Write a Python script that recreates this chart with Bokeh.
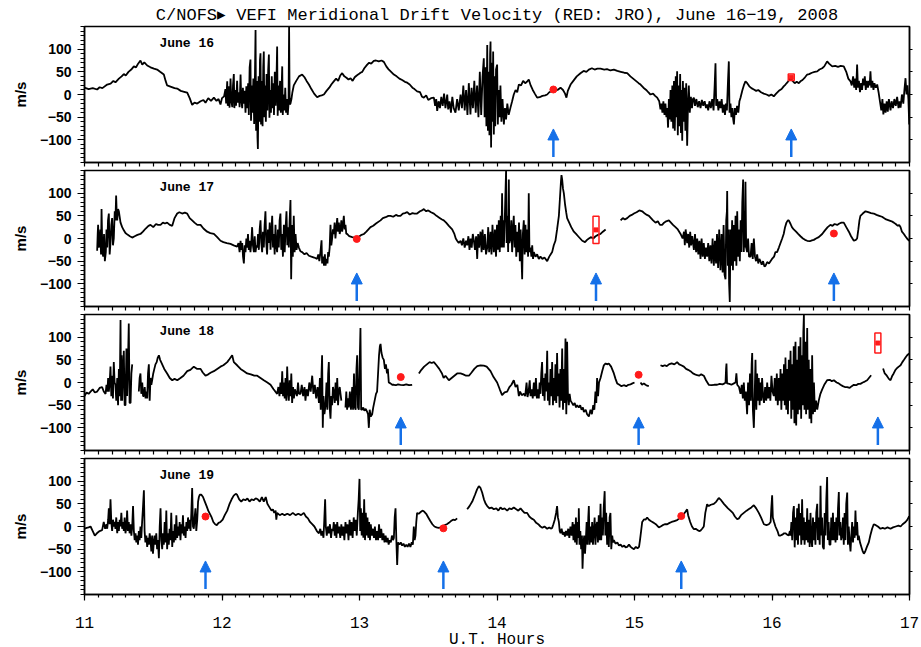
import numpy as np
from bokeh.plotting import figure
from bokeh.layouts import column
from bokeh.models import (Range1d, FixedTicker, LinearAxis, Label, Arrow,
                          NormalHead, ColumnDataSource)
from bokeh.embed import file_html
from bokeh.resources import INLINE

TITLE = "C/NOFS\u25b8 VEFI Meridional Drift Velocity (RED: JRO), June 16\u221219, 2008"
DAYS = ["June 16", "June 17", "June 18", "June 19"]
X_TICKS = [11, 12, 13, 14, 15, 16, 17]
Y_TICKS = [-100, -50, 0, 50, 100]
Y_LABELS = {"-100": "\u2212100", "-50": "\u221250", "0": "0", "50": "50", "100": "100"}
G = None  # data gap

# C/NOFS VEFI meridional drift (UT hour, m/s)
JUNE16 = [
 (11.000, 15), (11.030, 12), (11.060, 14), (11.092, 11), (11.110, 16), (11.130, 14), (11.165, 22), (11.190, 24),
 (11.210, 30), (11.225, 27), (11.250, 35), (11.270, 40), (11.286, 45), (11.300, 42), (11.320, 50), (11.340, 55),
 (11.359, 62), (11.375, 60), (11.390, 68), (11.407, 75), (11.420, 66), (11.435, 71), (11.456, 64), (11.480, 60),
 (11.505, 57), (11.528, 55), (11.550, 50), (11.577, 44), (11.590, 30), (11.601, 20), (11.630, 17), (11.655, 14),
 (11.674, 13), (11.700, 8), (11.725, 6), (11.747, 4), (11.765, -8), (11.783, -23), (11.800, -18), (11.820, -20),
 (11.844, -15), (11.865, -12), (11.880, -18), (11.900, -8), (11.920, -14), (11.941, -7), (11.960, -14), (11.975, -10),
 (11.989, -22), (12.000, -8), (12.015, -4), (12.025, 12), (12.030, -20), (12.038, 29), (12.042, -25), (12.050, 18),
 (12.055, -29), (12.062, 35), (12.068, -15), (12.075, -28), (12.080, 20), (12.086, 45), (12.090, -30), (12.097, 10),
 (12.102, -25), (12.110, 30), (12.115, -18), (12.122, 5), (12.128, -28), (12.135, 44), (12.140, -12), (12.147, -30),
 (12.152, 15), (12.158, -20), (12.165, 8), (12.171, -40), (12.177, 18), (12.183, -30), (12.190, 25), (12.195, -45),
 (12.201, 60), (12.207, 77), (12.211, -58), (12.217, 20), (12.222, -40), (12.228, 35), (12.234, -65), (12.240, 50),
 (12.244, 142), (12.248, -80), (12.254, 30), (12.258, -95), (12.261, -120), (12.266, 40), (12.271, -60), (12.276, 75),
 (12.280, 91), (12.284, -66), (12.290, 30), (12.295, -70), (12.300, 60), (12.304, 95), (12.308, -50), (12.314, 20),
 (12.319, -60), (12.324, 45), (12.330, -35), (12.336, 55), (12.341, 88), (12.345, -51), (12.351, 10), (12.356, -40),
 (12.362, 40), (12.367, -30), (12.373, 25), (12.378, -45), (12.384, 50), (12.390, -25), (12.395, 15), (12.401, 106),
 (12.405, -47), (12.411, 20), (12.416, -35), (12.422, 30), (12.428, -40), (12.433, 10), (12.438, 62), (12.442, -45),
 (12.448, 0), (12.454, -35), (12.460, 15), (12.466, -40), (12.472, -10), (12.478, -45), (12.484, -20), (12.488, 150),
 (12.492, -22), (12.498, -20), (12.505, -10), (12.512, 5), (12.522, 20), (12.540, 30), (12.560, 40), (12.583, 44),
 (12.600, 38), (12.615, 30), (12.632, 22), (12.650, 12), (12.670, 2), (12.692, -6), (12.710, -3), (12.725, -2),
 (12.741, 0), (12.760, 8), (12.780, 15), (12.795, 22), (12.813, 29), (12.830, 35), (12.845, 30), (12.860, 42),
 (12.874, 47), (12.890, 40), (12.905, 37), (12.920, 33), (12.935, 36), (12.950, 30), (12.965, 38), (12.980, 42),
 (12.995, 45), (13.007, 48), (13.020, 50), (13.035, 58), (13.056, 66), (13.070, 70), (13.085, 68), (13.104, 74),
 (13.120, 75), (13.140, 73), (13.160, 75), (13.177, 72), (13.195, 62), (13.210, 56), (13.230, 50), (13.250, 44),
 (13.270, 40), (13.290, 35), (13.310, 32), (13.330, 28), (13.347, 26), (13.365, 22), (13.385, 15), (13.400, 12),
 (13.419, 7), (13.440, 5), (13.455, -5), (13.468, -7), (13.485, -2), (13.500, -12), (13.520, -8), (13.541, -7),
 (13.550, -25), (13.558, -10), (13.565, -36), (13.575, -15), (13.585, -30), (13.595, -5), (13.605, -25), (13.615, 2),
 (13.625, -30), (13.638, 0), (13.645, -33), (13.655, -15), (13.665, -40), (13.675, -5), (13.685, -30), (13.698, -40),
 (13.710, -10), (13.722, -35), (13.735, 0), (13.745, -30), (13.755, 20), (13.765, -35), (13.775, 10), (13.785, -45),
 (13.795, 25), (13.807, -44), (13.815, 15), (13.825, -30), (13.835, 30), (13.845, -40), (13.855, 20), (13.865, -50),
 (13.875, 50), (13.885, -45), (13.895, 40), (13.904, 80), (13.910, -50), (13.917, 60), (13.923, -70), (13.929, 109),
 (13.934, -80), (13.940, 50), (13.945, -90), (13.950, 90), (13.953, 117), (13.957, -117), (13.962, 70), (13.967, -60),
 (13.972, 95), (13.977, -88), (13.982, 40), (13.987, -70), (13.993, 55), (14.001, 66), (14.006, -66), (14.012, 10),
 (14.018, -50), (14.025, 20), (14.032, -60), (14.040, -10), (14.050, -66), (14.058, -30), (14.066, -55), (14.075, -20),
 (14.085, -45), (14.098, -29), (14.110, -15), (14.122, 0), (14.135, 10), (14.147, 5), (14.159, 22), (14.175, 20),
 (14.190, 30), (14.205, 25), (14.218, 28), (14.231, 33), (14.245, 20), (14.260, 10), (14.275, 2), (14.292, -7),
 (14.310, -6), (14.330, -3), (14.350, -2), (14.365, 0), (14.380, 5), (14.401, 8), (14.420, 12), (14.440, 10),
 (14.462, 15), (14.480, 10), (14.495, 2), (14.505, -7), (14.515, 8), (14.535, 22), (14.555, 30), (14.580, 40),
 (14.607, 47), (14.630, 52), (14.650, 50), (14.668, 55), (14.690, 58), (14.710, 55), (14.730, 57), (14.753, 57),
 (14.780, 55), (14.800, 56), (14.825, 53), (14.850, 55), (14.875, 52), (14.900, 50), (14.925, 48), (14.947, 47),
 (14.970, 40), (14.990, 35), (15.010, 30), (15.030, 25), (15.044, 22), (15.065, 15), (15.085, 10), (15.100, 5),
 (15.116, 0), (15.135, 2), (15.150, -3), (15.165, -7), (15.180, -15), (15.189, -33), (15.196, -20), (15.203, -40),
 (15.210, -15), (15.218, -45), (15.225, -20), (15.232, -50), (15.238, -30), (15.244, -73), (15.250, -10), (15.256, -55),
 (15.262, 10), (15.268, -60), (15.275, 20), (15.281, -75), (15.287, 30), (15.293, -80), (15.300, 40), (15.305, -50),
 (15.310, 51), (15.315, -90), (15.320, 20), (15.326, -70), (15.332, 45), (15.338, -85), (15.343, 10), (15.347, -102),
 (15.352, 30), (15.358, -60), (15.364, 15), (15.370, -80), (15.376, 25), (15.383, -113), (15.389, -20), (15.395, 20),
 (15.402, -40), (15.410, -5), (15.418, -30), (15.425, -10), (15.432, -7), (15.440, -25), (15.450, -10), (15.460, -28),
 (15.470, -15), (15.480, -30), (15.490, -12), (15.500, -25), (15.510, -15), (15.520, -30), (15.528, -22), (15.536, -35),
 (15.545, -15), (15.555, -30), (15.565, -10), (15.575, -35), (15.583, 20), (15.589, 69), (15.594, -25), (15.602, -10),
 (15.610, -35), (15.618, -15), (15.626, -30), (15.634, -10), (15.642, -40), (15.650, -22), (15.658, -45), (15.665, -20),
 (15.672, -35), (15.680, 30), (15.686, 73), (15.691, -40), (15.698, -20), (15.705, -50), (15.712, -30), (15.718, -55),
 (15.723, -66), (15.730, -30), (15.738, -45), (15.746, -25), (15.755, -40), (15.763, -15), (15.771, -7), (15.785, 10),
 (15.795, 20), (15.807, 29), (15.820, 25), (15.835, 18), (15.850, 14), (15.868, 11), (15.885, 8), (15.900, 10),
 (15.920, 5), (15.940, 2), (15.960, 0), (15.980, -3), (15.995, 0), (16.013, -4), (16.030, 2), (16.050, 8),
 (16.070, 12), (16.085, 18), (16.098, 22), (16.115, 28), (16.135, 36), (16.150, 30), (16.165, 25), (16.180, 28),
 (16.195, 25), (16.207, 29), (16.222, 32), (16.240, 38), (16.256, 44), (16.270, 45), (16.290, 48), (16.310, 50),
 (16.329, 51), (16.345, 55), (16.365, 58), (16.380, 62), (16.401, 73), (16.415, 68), (16.438, 62), (16.460, 63),
 (16.480, 61), (16.500, 63), (16.522, 62), (16.540, 50), (16.555, 35), (16.571, 29), (16.580, 20), (16.590, 40),
 (16.598, 15), (16.606, 35), (16.612, 10), (16.619, 66), (16.625, 15), (16.632, 30), (16.640, 5), (16.648, 25),
 (16.655, 10), (16.662, 35), (16.668, 20), (16.675, 40), (16.682, 10), (16.690, 30), (16.698, 15), (16.705, 30),
 (16.710, 20), (16.716, 51), (16.722, 15), (16.730, 30), (16.738, 10), (16.745, 25), (16.755, 15), (16.765, 22),
 (16.775, 5), (16.785, -15), (16.795, -35), (16.803, -10), (16.810, -44), (16.818, -20), (16.826, -40), (16.834, -15),
 (16.842, -38), (16.850, -10), (16.862, -35), (16.870, -15), (16.880, -30), (16.890, -10), (16.900, -25), (16.910, -5),
 (16.920, -30), (16.928, -15), (16.935, -29), (16.945, 0), (16.955, -20), (16.963, 10), (16.971, 36), (16.978, 0),
 (16.985, 20), (16.992, -10), (16.998, -66),
]

JUNE17 = [
 (11.092, -27), (11.096, 10), (11.099, 30), (11.104, -20), (11.109, -10), (11.115, 20), (11.120, -35), (11.124, 65),
 (11.130, -30), (11.136, -40), (11.142, 10), (11.148, -50), (11.155, -30), (11.160, 20), (11.165, -20), (11.171, 40),
 (11.177, 55), (11.183, -35), (11.189, -10), (11.195, 30), (11.201, 45), (11.207, -15), (11.213, 0), (11.220, 60),
 (11.225, 40), (11.230, 95), (11.235, 50), (11.238, 40), (11.244, 65), (11.250, 60), (11.262, 35), (11.274, 25),
 (11.286, 18), (11.298, 12), (11.315, 8), (11.330, 5), (11.347, 2), (11.365, 5), (11.385, 8), (11.407, 10),
 (11.425, 15), (11.445, 22), (11.465, 28), (11.480, 30), (11.500, 25), (11.520, 32), (11.535, 30), (11.553, 30),
 (11.570, 35), (11.585, 33), (11.601, 35), (11.620, 30), (11.638, 28), (11.655, 45), (11.674, 55), (11.690, 58),
 (11.710, 55), (11.730, 57), (11.747, 55), (11.765, 45), (11.783, 40), (11.800, 35), (11.820, 30), (11.844, 30),
 (11.865, 22), (11.892, 15), (11.915, 12), (11.941, 10), (11.965, 3), (11.989, -5), (12.010, -8), (12.035, -10),
 (12.062, -12), (12.085, -15), (12.110, -18), (12.120, -10), (12.128, -30), (12.135, -5), (12.141, -25), (12.147, -10),
 (12.153, -40), (12.159, -55), (12.165, -15), (12.171, -30), (12.177, 0), (12.183, -20), (12.189, 10), (12.195, -25),
 (12.201, -5), (12.207, -30), (12.213, -10), (12.219, 25), (12.225, -15), (12.232, -30), (12.238, 5), (12.244, -30),
 (12.250, -15), (12.256, -20), (12.262, 10), (12.268, -25), (12.274, 20), (12.280, 40), (12.286, -10), (12.292, -30),
 (12.298, 15), (12.304, -20), (12.310, 30), (12.316, 60), (12.322, -10), (12.328, -35), (12.334, 20), (12.341, -10),
 (12.347, 35), (12.353, -25), (12.359, 15), (12.365, 50), (12.371, -20), (12.377, 10), (12.383, -35), (12.389, 30),
 (12.395, -15), (12.401, -30), (12.407, 20), (12.413, -20), (12.419, 40), (12.425, 55), (12.431, -25), (12.437, 10),
 (12.443, -40), (12.450, 30), (12.456, -30), (12.462, 20), (12.469, 60), (12.475, -15), (12.480, 25), (12.486, -20),
 (12.492, 40), (12.498, 85), (12.503, -90), (12.509, 30), (12.515, -40), (12.522, 50), (12.528, -30), (12.535, 10),
 (12.542, -25), (12.550, -10), (12.559, -20), (12.570, -28), (12.583, -30), (12.600, -35), (12.615, -32), (12.632, -38),
 (12.650, -40), (12.670, -42), (12.692, -45), (12.700, -35), (12.708, -50), (12.716, -30), (12.724, -4), (12.728, -55),
 (12.735, -40), (12.742, -60), (12.748, -35), (12.753, -60), (12.760, -45), (12.767, -55), (12.772, -30), (12.777, -40),
 (12.783, -20), (12.789, 30), (12.795, -15), (12.801, 0), (12.807, 20), (12.813, 10), (12.819, 35), (12.825, 0),
 (12.832, 25), (12.838, 45), (12.844, 15), (12.850, 35), (12.856, 10), (12.862, 20), (12.868, 40), (12.874, 15),
 (12.880, 30), (12.886, 50), (12.892, 20), (12.898, 30), (12.904, 10), (12.910, 10), (12.925, 5), (12.947, 3),
 (12.965, 2), (12.983, 0), (13.000, 5), (13.015, 8), (13.032, 10), (13.050, 15), (13.065, 20), (13.080, 25),
 (13.100, 28), (13.120, 33), (13.153, 40), (13.170, 45), (13.190, 47), (13.210, 50), (13.225, 50), (13.245, 48),
 (13.265, 52), (13.280, 50), (13.298, 50), (13.315, 55), (13.330, 56), (13.347, 58), (13.365, 53), (13.385, 56),
 (13.400, 55), (13.419, 55), (13.440, 60), (13.455, 62), (13.468, 65), (13.485, 60), (13.500, 62), (13.520, 58),
 (13.541, 55), (13.560, 50), (13.580, 46), (13.600, 42), (13.613, 40), (13.630, 35), (13.650, 28), (13.674, 20),
 (13.690, 10), (13.700, 0), (13.710, -5), (13.722, -10), (13.735, -5), (13.745, -15), (13.755, 0), (13.765, -20),
 (13.775, -5), (13.783, -15), (13.792, 5), (13.800, -25), (13.808, 0), (13.816, -20), (13.824, 10), (13.832, -5),
 (13.840, -25), (13.848, 5), (13.856, -45), (13.863, 10), (13.870, -20), (13.880, 15), (13.888, -30), (13.895, 20),
 (13.903, -25), (13.912, 10), (13.920, -35), (13.929, -20), (13.936, 25), (13.943, -30), (13.953, 15), (13.960, -35),
 (13.967, 30), (13.977, -30), (13.985, 20), (13.993, -40), (14.000, 30), (14.007, -25), (14.013, 40), (14.020, -30),
 (14.027, 50), (14.032, -20), (14.037, 100), (14.042, -20), (14.046, 40), (14.050, -20), (14.058, 60), (14.066, 150),
 (14.070, -10), (14.076, 50), (14.081, -30), (14.086, 130), (14.090, -10), (14.098, 0), (14.104, 40), (14.110, -30),
 (14.116, 20), (14.122, 50), (14.128, -20), (14.134, 30), (14.140, -40), (14.147, 15), (14.153, -30), (14.160, 35),
 (14.166, -50), (14.172, 20), (14.178, -40), (14.183, -90), (14.188, 10), (14.195, 40), (14.201, -35), (14.207, 30),
 (14.213, -30), (14.219, 20), (14.226, -40), (14.231, 100), (14.236, -30), (14.244, -20), (14.250, -40), (14.256, -15),
 (14.262, -45), (14.268, -30), (14.280, -40), (14.292, -35), (14.304, -45), (14.316, -40), (14.330, -45), (14.345, -42),
 (14.365, -50), (14.380, -40), (14.401, -30), (14.413, -15), (14.425, -5), (14.437, 20), (14.450, 50), (14.458, 90),
 (14.465, 125), (14.469, 140), (14.474, 130), (14.480, 110), (14.486, 100), (14.495, 75), (14.503, 58), (14.510, 45),
 (14.525, 35), (14.540, 25), (14.559, 15), (14.575, 10), (14.590, 5), (14.605, 0), (14.620, -5), (14.640, -8),
 (14.655, -3), (14.668, 0), (14.685, 3), (14.700, 0), (14.717, 5), (14.735, 8), (14.753, 10), (14.770, 15),
 (14.790, 20), (14.845, G), (14.899, 40), (14.915, 45), (14.930, 42), (14.947, 45), (14.965, 50), (14.980, 52),
 (14.996, 55), (15.015, 58), (15.035, 62), (15.056, 60), (15.075, 55), (15.090, 52), (15.105, 50), (15.120, 45),
 (15.135, 40), (15.153, 35), (15.170, 38), (15.185, 30), (15.201, 30), (15.215, 35), (15.230, 38), (15.250, 40),
 (15.265, 35), (15.280, 30), (15.298, 25), (15.315, 20), (15.335, 10), (15.350, 0), (15.360, 15), (15.366, -15),
 (15.372, 20), (15.383, -10), (15.390, 10), (15.398, -20), (15.405, 15), (15.412, -15), (15.420, 5), (15.432, -25),
 (15.440, 10), (15.448, -30), (15.456, 0), (15.464, -35), (15.472, -5), (15.480, -45), (15.488, 0), (15.496, -40),
 (15.504, -10), (15.512, -45), (15.520, -20), (15.528, -40), (15.536, -10), (15.544, -50), (15.552, -15), (15.560, -55),
 (15.568, 0), (15.577, -60), (15.585, -5), (15.593, -55), (15.600, 10), (15.608, -65), (15.616, 20), (15.625, -70),
 (15.633, 10), (15.641, -75), (15.648, 30), (15.655, -80), (15.662, -90), (15.667, 40), (15.672, 60), (15.674, 105),
 (15.679, -60), (15.684, 20), (15.688, -100), (15.693, -140), (15.698, 20), (15.703, -60), (15.710, 40), (15.716, -70),
 (15.722, 30), (15.728, -50), (15.735, 50), (15.741, -60), (15.747, 60), (15.753, -40), (15.760, 20), (15.766, -50),
 (15.772, 40), (15.778, -30), (15.784, 80), (15.790, 130), (15.795, -30), (15.800, 60), (15.804, -20), (15.807, 125),
 (15.812, -20), (15.819, -30), (15.826, 0), (15.833, -40), (15.844, -40), (15.852, -10), (15.860, -45), (15.868, 0),
 (15.876, -40), (15.884, -50), (15.892, -35), (15.900, -55), (15.908, -45), (15.916, -50), (15.925, -58), (15.935, -50),
 (15.945, -62), (15.953, -60), (15.965, -52), (15.978, -55), (15.989, -50), (16.000, -45), (16.015, -40), (16.025, -30),
 (16.037, -30), (16.050, -20), (16.062, -10), (16.074, 0), (16.085, 10), (16.095, 25), (16.105, 35), (16.115, 40),
 (16.122, 40), (16.135, 32), (16.145, 25), (16.158, 20), (16.175, 15), (16.190, 10), (16.207, 5), (16.225, 0),
 (16.240, -3), (16.256, -5), (16.275, -6), (16.290, -4), (16.304, -3), (16.320, 0), (16.340, 3), (16.365, 10),
 (16.385, 18), (16.405, 25), (16.425, 30), (16.440, 28), (16.455, 32), (16.474, 30), (16.490, 33), (16.505, 35),
 (16.522, 35), (16.540, 25), (16.559, 15), (16.575, 5), (16.595, -5), (16.610, -3), (16.619, 0), (16.628, 20),
 (16.636, 40), (16.643, 50), (16.660, 55), (16.680, 60), (16.700, 58), (16.720, 56), (16.740, 55), (16.760, 52),
 (16.780, 50), (16.800, 48), (16.814, 45), (16.830, 42), (16.850, 40), (16.870, 38), (16.886, 35), (16.900, 32),
 (16.915, 28), (16.925, 30), (16.935, 25), (16.945, 15), (16.959, 10), (16.970, 5), (16.982, 0), (16.998, -5),
]

JUNE18 = [
 (11.000, -30), (11.015, -22), (11.030, -25), (11.044, -20), (11.060, -15), (11.075, -22), (11.092, -20), (11.110, -12),
 (11.128, -10), (11.140, -20), (11.153, -25), (11.160, -5), (11.166, -20), (11.172, 10), (11.177, -20), (11.183, 0),
 (11.189, 35), (11.195, -30), (11.201, 15), (11.207, -35), (11.213, 45), (11.219, 0), (11.225, -5), (11.231, -40),
 (11.238, 10), (11.244, -50), (11.250, 30), (11.256, -30), (11.262, 138), (11.266, -40), (11.270, 60), (11.274, -40),
 (11.280, 20), (11.286, 70), (11.292, -50), (11.298, -50), (11.305, 75), (11.310, -30), (11.316, 40), (11.322, 130),
 (11.328, -45), (11.335, -45), (11.341, 20), (11.347, 40), (11.370, G), (11.395, -20), (11.401, 10), (11.407, 20),
 (11.413, -25), (11.420, 0), (11.426, -30), (11.432, -30), (11.438, -10), (11.444, -35), (11.450, -20), (11.456, -35),
 (11.462, 20), (11.468, 40), (11.474, -40), (11.480, 10), (11.486, -5), (11.492, 5), (11.500, 20), (11.508, 30),
 (11.516, 40), (11.525, 45), (11.533, 55), (11.541, 60), (11.550, 50), (11.565, 40), (11.580, 30), (11.601, 20),
 (11.620, 10), (11.638, 5), (11.655, 8), (11.675, 5), (11.698, 10), (11.720, 15), (11.747, 25), (11.770, 28),
 (11.795, 35), (11.820, 30), (11.844, 30), (11.860, 22), (11.880, 15), (11.900, 18), (11.920, 22), (11.941, 25),
 (11.965, 30), (11.989, 35), (12.010, 38), (12.038, 45), (12.055, 52), (12.074, 60), (12.086, 45), (12.110, 38),
 (12.135, 30), (12.160, 25), (12.183, 20), (12.210, 18), (12.235, 15), (12.256, 15), (12.280, 10), (12.304, 5),
 (12.330, 0), (12.353, -5), (12.375, -15), (12.401, -25), (12.410, -10), (12.418, -30), (12.425, 0), (12.432, -25),
 (12.438, 25), (12.444, -30), (12.450, 0), (12.456, -35), (12.462, 10), (12.468, -40), (12.474, 35), (12.480, -20),
 (12.486, -40), (12.492, 5), (12.498, -30), (12.504, 20), (12.510, -45), (12.517, -10), (12.523, -35), (12.530, -15),
 (12.535, -20), (12.545, -30), (12.553, 0), (12.560, -25), (12.571, -25), (12.580, -5), (12.590, -30), (12.600, -10),
 (12.607, -40), (12.615, -15), (12.625, -30), (12.635, 0), (12.645, -20), (12.656, 15), (12.665, -25), (12.675, -5),
 (12.685, -35), (12.695, -10), (12.705, -45), (12.712, 10), (12.718, -60), (12.724, 20), (12.728, 60), (12.733, -100),
 (12.738, -30), (12.745, -70), (12.753, -50), (12.760, 0), (12.766, -60), (12.772, 20), (12.777, 45), (12.783, -55),
 (12.789, -80), (12.795, -30), (12.801, -50), (12.807, -10), (12.813, -20), (12.820, -45), (12.826, 0), (12.832, -40),
 (12.838, 10), (12.844, -50), (12.850, -20), (12.856, -10), (12.862, -25), (12.868, -40), (12.883, G), (12.898, -55),
 (12.904, -20), (12.910, -60), (12.916, -35), (12.922, -55), (12.930, -20), (12.938, -60), (12.947, -10), (12.953, -60),
 (12.960, 20), (12.966, -55), (12.972, -60), (12.978, 30), (12.983, 60), (12.989, -55), (12.995, -60), (13.001, 40),
 (13.007, 120), (13.012, -60), (13.019, -60), (13.027, -55), (13.035, -62), (13.045, -58), (13.056, -65), (13.062, -70),
 (13.068, -100), (13.074, -60), (13.082, -75), (13.092, -70), (13.100, -55), (13.110, -40), (13.120, -25), (13.128, -20),
 (13.135, 20), (13.142, 60), (13.148, 80), (13.153, 85), (13.160, 65), (13.168, 55), (13.177, 50), (13.185, 30),
 (13.192, 40), (13.200, 20), (13.206, 30), (13.213, 0), (13.225, -2), (13.238, -5), (13.250, -5), (13.265, -6),
 (13.280, -4), (13.298, -5), (13.320, -6), (13.340, -4), (13.360, -6), (13.383, -5), (13.410, G), (13.432, 20),
 (13.450, 28), (13.470, 35), (13.490, 40), (13.510, 45), (13.525, 43), (13.541, 45), (13.560, 38), (13.580, 30),
 (13.600, 20), (13.612, 10), (13.625, 15), (13.650, 5), (13.670, 10), (13.690, 15), (13.710, 20), (13.735, 20),
 (13.755, 18), (13.775, 15), (13.796, 15), (13.815, 22), (13.835, 30), (13.856, 36), (13.880, 38), (13.904, 37),
 (13.925, 35), (13.953, 25), (13.975, 12), (14.001, 0), (14.020, -15), (14.037, -28), (14.055, -22), (14.074, -20),
 (14.090, -10), (14.105, -5), (14.122, 5), (14.135, -10), (14.148, -5), (14.159, -30), (14.168, -20), (14.180, -28),
 (14.195, -25), (14.205, -30), (14.215, 0), (14.222, -32), (14.230, -20), (14.238, 5), (14.244, -30), (14.252, -15),
 (14.260, -35), (14.268, 0), (14.275, -30), (14.283, 10), (14.290, -35), (14.297, -15), (14.304, -35), (14.310, 0),
 (14.316, -25), (14.322, 20), (14.328, 45), (14.334, -30), (14.340, 10), (14.346, -40), (14.352, 20), (14.358, -20),
 (14.365, 70), (14.370, -40), (14.376, 0), (14.382, -50), (14.389, 30), (14.395, -30), (14.401, 45), (14.407, -50),
 (14.413, 10), (14.419, -40), (14.425, 40), (14.431, -45), (14.437, 65), (14.443, -30), (14.449, 20), (14.455, -55),
 (14.461, 30), (14.467, -40), (14.474, 75), (14.480, -60), (14.486, 30), (14.492, -45), (14.498, 97), (14.504, -70),
 (14.510, 90), (14.516, -30), (14.522, -50), (14.528, -25), (14.535, -40), (14.545, -45), (14.555, -50), (14.565, -45),
 (14.575, -55), (14.583, -50), (14.595, -55), (14.605, -50), (14.615, -60), (14.625, -55), (14.632, -65), (14.645, -60),
 (14.655, -70), (14.668, -75), (14.680, -60), (14.690, -70), (14.700, -50), (14.708, -60), (14.716, -20), (14.722, -45),
 (14.728, 10), (14.735, -30), (14.742, 0), (14.753, 10), (14.765, 25), (14.777, 38), (14.790, 42), (14.800, 40),
 (14.813, 42), (14.830, 35), (14.850, 20), (14.862, 8), (14.874, -2), (14.890, -5), (14.905, -8), (14.922, -6),
 (14.940, -8), (14.955, -5), (14.971, -4), (14.985, -2), (15.000, 0), (15.022, G), (15.044, 0), (15.055, -5),
 (15.068, -2), (15.080, -5), (15.092, -7), (15.104, -8), (15.150, G), (15.189, 38), (15.205, 36), (15.220, 38),
 (15.235, 36), (15.250, 40), (15.270, 42), (15.290, 40), (15.310, 45), (15.325, 40), (15.340, 38), (15.359, 35),
 (15.375, 30), (15.390, 28), (15.407, 25), (15.425, 20), (15.440, 18), (15.456, 16), (15.470, 15), (15.485, 18),
 (15.504, 15), (15.520, 5), (15.540, -5), (15.560, -6), (15.580, -5), (15.601, -5), (15.620, -3), (15.640, -4),
 (15.655, -2), (15.662, 0), (15.666, 30), (15.669, 42), (15.673, -2), (15.690, -3), (15.705, -5), (15.723, -2),
 (15.735, 0), (15.741, 20), (15.747, -5), (15.760, -10), (15.771, -25), (15.780, -5), (15.788, -35), (15.795, 0),
 (15.802, -40), (15.810, -20), (15.819, -70), (15.826, 0), (15.833, -50), (15.840, 20), (15.846, -40), (15.852, 40),
 (15.856, 65), (15.861, -60), (15.868, -100), (15.874, -30), (15.880, 50), (15.886, -60), (15.892, 20), (15.898, -40),
 (15.904, 10), (15.910, -50), (15.916, 0), (15.922, -40), (15.928, 10), (15.935, -30), (15.942, -45), (15.950, -10),
 (15.958, -40), (15.965, 0), (15.972, -35), (15.980, -10), (15.988, -40), (15.996, 15), (16.004, -20), (16.013, -30),
 (16.020, 10), (16.028, -40), (16.035, 20), (16.042, -50), (16.050, 10), (16.056, -40), (16.062, 30), (16.068, -60),
 (16.075, 20), (16.081, -40), (16.087, 40), (16.093, -50), (16.098, 55), (16.104, -60), (16.110, 30), (16.116, -70),
 (16.122, 50), (16.128, -40), (16.135, 70), (16.140, -80), (16.146, 40), (16.152, -60), (16.158, 80), (16.163, -90),
 (16.168, 60), (16.171, 90), (16.176, -95), (16.182, 50), (16.188, -70), (16.194, 80), (16.200, -60), (16.207, 100),
 (16.212, -80), (16.218, 60), (16.224, -50), (16.228, 110), (16.232, 150), (16.236, -60), (16.242, 90), (16.248, -70),
 (16.256, 120), (16.261, -60), (16.267, 50), (16.273, -80), (16.280, 30), (16.286, -90), (16.292, 60), (16.298, -70),
 (16.305, 0), (16.312, -65), (16.320, -40), (16.329, -60), (16.340, -40), (16.352, -25), (16.365, -15), (16.380, -5),
 (16.401, 5), (16.420, 6), (16.435, 3), (16.450, 5), (16.470, 0), (16.485, -2), (16.498, -5), (16.515, -8),
 (16.530, -10), (16.547, -10), (16.565, -12), (16.580, -8), (16.595, -5), (16.612, -6), (16.628, -3), (16.643, -3),
 (16.660, 0), (16.675, 2), (16.692, 5), (16.705, 10), (16.721, 16), (16.765, G), (16.808, 31), (16.820, 20),
 (16.835, 15), (16.850, 8), (16.862, 5), (16.875, 15), (16.885, 20), (16.898, 28), (16.910, 32), (16.922, 35),
 (16.935, 38), (16.948, 45), (16.960, 50), (16.971, 55), (16.983, 60), (16.998, 64),
]

JUNE19 = [
 (11.000, -5), (11.015, -3), (11.030, -2), (11.044, 0), (11.060, -10), (11.075, -20), (11.090, -15), (11.110, -10),
 (11.128, -8), (11.140, 10), (11.150, -5), (11.160, 5), (11.165, -5), (11.172, 15), (11.177, 40), (11.183, 5),
 (11.189, 60), (11.195, 10), (11.201, -10), (11.207, 15), (11.213, 0), (11.219, 10), (11.225, -5), (11.231, 20),
 (11.238, -15), (11.244, 10), (11.250, -10), (11.256, 15), (11.262, 0), (11.268, 30), (11.274, -5), (11.280, 10),
 (11.286, -10), (11.292, 20), (11.298, -15), (11.305, 0), (11.310, 35), (11.316, -10), (11.322, 10), (11.328, -15),
 (11.335, 5), (11.341, -20), (11.347, 0), (11.353, 45), (11.359, -10), (11.365, -30), (11.371, -15), (11.377, -35),
 (11.383, -20), (11.389, -40), (11.395, -10), (11.401, -30), (11.407, 0), (11.413, -25), (11.419, 10), (11.425, 40),
 (11.432, 80), (11.437, -10), (11.443, -35), (11.450, -20), (11.456, -45), (11.462, -25), (11.468, -40), (11.474, -15),
 (11.480, -30), (11.486, -55), (11.492, -20), (11.498, -60), (11.504, -35), (11.510, -20), (11.516, -40), (11.522, -15),
 (11.528, -50), (11.534, -30), (11.541, -70), (11.547, 0), (11.553, 40), (11.559, -30), (11.565, -50), (11.571, -15),
 (11.577, -40), (11.583, 10), (11.589, -35), (11.595, 35), (11.601, -50), (11.607, -15), (11.613, -40), (11.619, -5),
 (11.625, -30), (11.631, 30), (11.638, -45), (11.644, -10), (11.650, -35), (11.656, 5), (11.662, -30), (11.668, 25),
 (11.674, -25), (11.680, 0), (11.686, -20), (11.692, 10), (11.698, -30), (11.704, 5), (11.710, -15), (11.716, 25),
 (11.722, -20), (11.728, 0), (11.735, -25), (11.741, 10), (11.747, -10), (11.753, 20), (11.759, -5), (11.765, 15),
 (11.771, -10), (11.777, 30), (11.783, 85), (11.789, 0), (11.795, -5), (11.801, 20), (11.807, 40), (11.813, -10),
 (11.820, 15), (11.826, 55), (11.832, 65), (11.838, 70), (11.850, 70), (11.862, 65), (11.875, 55), (11.888, 45),
 (11.900, 35), (11.912, 28), (11.925, 20), (11.937, 10), (11.950, 5), (11.962, 3), (11.975, 8), (11.989, 10),
 (12.005, 15), (12.020, 25), (12.038, 35), (12.055, 50), (12.070, 60), (12.085, 68), (12.100, 72), (12.110, 70),
 (12.125, 60), (12.140, 55), (12.155, 60), (12.170, 58), (12.185, 62), (12.200, 55), (12.215, 60), (12.230, 58),
 (12.245, 62), (12.260, 60), (12.275, 55), (12.290, 65), (12.304, 55), (12.318, 65), (12.330, 50), (12.340, 45),
 (12.350, 40), (12.360, 35), (12.370, 38), (12.380, 30), (12.390, 35), (12.395, 15), (12.401, 30), (12.420, 25),
 (12.438, 28), (12.455, 25), (12.475, 28), (12.495, 25), (12.515, 30), (12.535, 25), (12.555, 28), (12.575, 25),
 (12.595, 30), (12.610, 22), (12.625, 18), (12.640, 10), (12.656, 5), (12.672, 0), (12.690, -10), (12.705, -15),
 (12.715, -5), (12.722, -20), (12.730, -10), (12.738, -25), (12.744, 15), (12.750, 60), (12.755, 0), (12.762, -20),
 (12.770, 0), (12.777, -15), (12.785, 5), (12.793, -25), (12.800, -5), (12.807, -10), (12.813, 10), (12.820, -20),
 (12.826, 5), (12.832, -25), (12.838, 10), (12.845, -15), (12.852, 0), (12.860, -25), (12.868, 5), (12.875, -20),
 (12.882, 0), (12.890, -30), (12.898, 10), (12.905, -15), (12.912, 5), (12.920, -30), (12.928, 15), (12.935, -20),
 (12.942, 10), (12.950, -25), (12.958, 20), (12.965, -10), (12.972, 15), (12.980, -20), (12.988, 30), (12.994, 60),
 (13.000, 105), (13.005, -10), (13.010, 40), (13.016, -20), (13.022, 30), (13.028, -25), (13.034, 60), (13.040, -30),
 (13.046, 30), (13.052, -20), (13.058, 20), (13.064, -25), (13.070, 10), (13.076, -30), (13.082, 5), (13.090, -20),
 (13.098, -5), (13.105, -25), (13.112, 0), (13.120, -30), (13.128, -10), (13.135, -30), (13.142, 5), (13.150, -25),
 (13.158, -5), (13.166, -30), (13.174, -15), (13.182, -35), (13.190, -20), (13.198, -35), (13.205, -25), (13.212, -40),
 (13.220, -30), (13.228, -35), (13.236, -20), (13.244, -30), (13.250, -25), (13.256, 20), (13.262, 40), (13.268, -30),
 (13.274, -85), (13.280, -35), (13.290, -40), (13.300, -35), (13.310, -42), (13.320, -38), (13.330, -45), (13.340, -40),
 (13.350, -45), (13.360, -38), (13.370, -45), (13.380, -35), (13.388, -40), (13.395, 0), (13.401, -30), (13.407, -20),
 (13.413, 10), (13.419, 30), (13.430, 28), (13.445, 32), (13.458, 35), (13.470, 33), (13.485, 28), (13.500, 20),
 (13.515, 12), (13.530, 5), (13.545, 0), (13.560, -2), (13.575, -3), (13.590, -2), (13.605, 0), (13.620, 3),
 (13.635, 5), (13.650, 8), (13.665, 12), (13.680, 15), (13.695, 14), (13.710, 18), (13.745, G), (13.783, 38),
 (13.800, 45), (13.820, 55), (13.840, 70), (13.855, 82), (13.868, 89), (13.880, 85), (13.892, 75), (13.905, 60),
 (13.918, 50), (13.929, 45), (13.945, 40), (13.960, 42), (13.977, 38), (13.995, 40), (14.010, 35), (14.025, 42),
 (14.040, 38), (14.055, 40), (14.074, 35), (14.090, 40), (14.105, 38), (14.122, 42), (14.140, 38), (14.155, 35),
 (14.171, 40), (14.185, 35), (14.200, 30), (14.219, 30), (14.235, 22), (14.250, 18), (14.268, 15), (14.285, 8),
 (14.300, 5), (14.316, 0), (14.330, -3), (14.345, 0), (14.365, -5), (14.380, -2), (14.395, -5), (14.401, -3),
 (14.410, 5), (14.420, 15), (14.430, 30), (14.437, 45), (14.443, 20), (14.450, 10), (14.456, -10), (14.462, -15),
 (14.470, -5), (14.478, -18), (14.486, -12), (14.494, -22), (14.502, -10), (14.510, -20), (14.518, -5), (14.526, -25),
 (14.534, 0), (14.542, -20), (14.550, 10), (14.556, -30), (14.562, 5), (14.568, -35), (14.574, 20), (14.580, -40),
 (14.586, 10), (14.592, -25), (14.595, 40), (14.600, -40), (14.606, -10), (14.612, -50), (14.618, -20), (14.622, -93),
 (14.628, -40), (14.634, -20), (14.640, -60), (14.646, -30), (14.652, 10), (14.658, -40), (14.664, 20), (14.668, 45),
 (14.673, -40), (14.680, 0), (14.686, -35), (14.692, 10), (14.698, -40), (14.704, -10), (14.710, 20), (14.716, -40),
 (14.722, 0), (14.728, 10), (14.734, -35), (14.740, 25), (14.746, -30), (14.753, 50), (14.758, -30), (14.764, 20),
 (14.770, -20), (14.776, 40), (14.783, 78), (14.788, -20), (14.794, 30), (14.801, -40), (14.807, 10), (14.813, -45),
 (14.819, 20), (14.825, 30), (14.831, -50), (14.838, -20), (14.844, -35), (14.850, -30), (14.862, -38), (14.875, -35),
 (14.887, -42), (14.899, -40), (14.912, -45), (14.925, -42), (14.935, -46), (14.947, -45), (14.960, -40), (14.972, -45),
 (14.985, -48), (14.996, -50), (15.010, -45), (15.022, -48), (15.033, -45), (15.040, -30), (15.048, -10), (15.056, 10),
 (15.070, 16), (15.080, 15), (15.092, 20), (15.105, 15), (15.118, 12), (15.130, 10), (15.141, 8), (15.155, 5),
 (15.165, 2), (15.177, -2), (15.190, 0), (15.205, 3), (15.220, 5), (15.238, 5), (15.255, 8), (15.270, 10),
 (15.290, 12), (15.310, 14), (15.325, 18), (15.347, 22), (15.360, 28), (15.372, 33), (15.383, 38), (15.390, 25),
 (15.395, 20), (15.405, 10), (15.418, 0), (15.432, -6), (15.445, -5), (15.460, -8), (15.470, -10), (15.480, -9),
 (15.492, -5), (15.504, 0), (15.515, 30), (15.528, 49), (15.540, 45), (15.555, 48), (15.577, 50), (15.595, 55),
 (15.613, 63), (15.630, 58), (15.650, 50), (15.665, 45), (15.680, 40), (15.698, 35), (15.715, 30), (15.730, 22),
 (15.747, 16), (15.760, 18), (15.775, 25), (15.795, 30), (15.815, 35), (15.830, 38), (15.850, 42), (15.868, 47),
 (15.885, 40), (15.904, 30), (15.920, 20), (15.941, 5), (15.960, 3), (15.977, 5), (15.990, 10), (15.995, 40),
 (16.001, 69), (16.006, 20), (16.015, 10), (16.025, 0), (16.040, -10), (16.050, -20), (16.062, -20), (16.075, -18),
 (16.088, -15), (16.098, -15), (16.110, -18), (16.122, -20), (16.130, -10), (16.135, -20), (16.141, 10), (16.147, -30),
 (16.153, 30), (16.159, 45), (16.165, -46), (16.171, 20), (16.177, -30), (16.183, 40), (16.189, -40), (16.195, 50),
 (16.201, -20), (16.207, 30), (16.213, -40), (16.219, 60), (16.225, -30), (16.231, 20), (16.237, -40), (16.244, 10),
 (16.250, -30), (16.256, 40), (16.262, -35), (16.268, 15), (16.274, -45), (16.280, 30), (16.286, -30), (16.292, -45),
 (16.298, 20), (16.304, -30), (16.310, 10), (16.316, -40), (16.322, 30), (16.329, 50), (16.334, -30), (16.340, 20),
 (16.347, -40), (16.353, 90), (16.358, -20), (16.364, 20), (16.370, -45), (16.377, -50), (16.383, 30), (16.389, -20),
 (16.395, 60), (16.401, 109), (16.406, -30), (16.412, 10), (16.418, -40), (16.425, -40), (16.431, 20), (16.437, -30),
 (16.443, 30), (16.450, -30), (16.456, 10), (16.462, -35), (16.468, 20), (16.474, -30), (16.480, 40), (16.486, 76),
 (16.491, -20), (16.497, 10), (16.503, -30), (16.510, -20), (16.516, 20), (16.522, -40), (16.528, 30), (16.534, -30),
 (16.540, 50), (16.547, 75), (16.552, -40), (16.558, 0), (16.564, -30), (16.571, -55), (16.577, -20), (16.583, 10),
 (16.589, -35), (16.595, 0), (16.601, -25), (16.607, 35), (16.613, -20), (16.619, 10), (16.625, -30), (16.631, -20),
 (16.640, -35), (16.650, -45), (16.660, -55), (16.668, -60), (16.678, -55), (16.690, -45), (16.704, -35), (16.715, -20),
 (16.728, -5), (16.740, 5), (16.755, 3), (16.770, 0), (16.789, -5), (16.805, -3), (16.820, -5), (16.840, -2),
 (16.862, -5), (16.880, -2), (16.900, 0), (16.920, 2), (16.935, 0), (16.950, 5), (16.971, 10), (16.985, 15),
 (16.998, 23),
]

# JRO measurements: (UT hour, drift m/s, half-range m/s)
JRO16 = [(14.41, 11, 0), (16.14, 38, 7)]
JRO17 = [(12.98, -1, 0), (14.72, 19, 30), (16.45, 11, 0)]
JRO18 = [(13.30, 12, 0), (15.03, 17, 0), (16.77, 87, 22)]
JRO19 = [(11.88, 22, 0), (13.61, -4, 0), (15.34, 23, 0)]

SERIES = [JUNE16, JUNE17, JUNE18, JUNE19]
JRO = [JRO16, JRO17, JRO18, JRO19]

ARROW_BASE, ARROW_TIP = -138, -76
BLUE = "#1570e8"
RED = "#ff1a1a"
MONO = "Liberation Mono"
SANS = "Liberation Sans"


def make_panel(i):
    first, last = i == 0, i == 3
    p = figure(frame_width=825, frame_height=136,
               x_range=Range1d(11, 17), y_range=Range1d(-150, 150),
               output_backend="svg", toolbar_location=None,
               min_border_left=84, min_border_right=12,
               min_border_top=26 if first else 2,
               min_border_bottom=6 if not last else 0,
               background_fill_color="white", border_fill_color="white")
    p.xgrid.visible = False
    p.ygrid.visible = False
    p.outline_line_color = "black"
    p.outline_line_width = 1.5
    p.outline_line_alpha = 1.0

    if first:
        p.title.text = TITLE
        p.title.align = "center"
        p.title.text_font = MONO
        p.title.text_font_size = "17px"
        p.title.text_font_style = "normal"
        p.title.text_color = "black"
        p.title.standoff = 4

    minor_x = [11 + k / 10 for k in range(61)]
    xa = p.xaxis[0]
    xa.axis_line_width = 1.5
    xa.major_tick_in = 0
    xa.minor_tick_in = 0
    xa.major_tick_line_width = 1.2
    xa.minor_tick_line_width = 1.2
    if last:
        xa.ticker = FixedTicker(ticks=X_TICKS, minor_ticks=minor_x)
        xa.major_tick_out = 6
        xa.minor_tick_out = 3
        xa.major_label_text_font = MONO
        xa.major_label_text_font_size = "16px"
        xa.major_label_text_color = "black"
        xa.major_label_standoff = 16
        xa.axis_label = "U.T. Hours"
        xa.axis_label_text_font = MONO
        xa.axis_label_text_font_size = "16px"
        xa.axis_label_text_font_style = "normal"
        xa.axis_label_text_color = "black"
        xa.axis_label_standoff = 0
    else:
        # unlabeled axis: tick marks only
        xa.ticker = FixedTicker(ticks=[], minor_ticks=minor_x)
        xa.minor_tick_out = 4

    ya = p.yaxis[0]
    ya.ticker = FixedTicker(ticks=Y_TICKS, minor_ticks=list(range(-150, 151, 10)))
    ya.major_label_overrides = Y_LABELS
    ya.axis_line_width = 1.5
    ya.major_tick_out = 7
    ya.major_tick_in = 0
    ya.minor_tick_out = 4
    ya.minor_tick_in = 0
    ya.major_tick_line_width = 1.2
    ya.minor_tick_line_width = 1.2
    ya.major_label_text_font = SANS
    ya.major_label_text_font_style = "bold"
    ya.major_label_text_font_size = "14px"
    ya.major_label_text_color = "black"
    ya.major_label_standoff = 6
    ya.axis_label = "m/s"
    ya.axis_label_text_font = SANS
    ya.axis_label_text_font_style = "bold"
    ya.axis_label_text_font_size = "15px"
    ya.axis_label_text_color = "black"
    ya.axis_label_standoff = 8

    ra = LinearAxis(ticker=FixedTicker(ticks=[], minor_ticks=Y_TICKS),
                    minor_tick_out=3, minor_tick_in=0, axis_line_width=1.5)
    p.add_layout(ra, "right")

    # data trace
    hours = [h for h, _ in SERIES[i]]
    vel = [np.nan if v is None else v for _, v in SERIES[i]]
    p.line(hours, vel, line_color="black", line_width=1.8)

    # JRO markers
    jh = [h for h, _, _ in JRO[i]]
    dots = [(h, v) for h, v, e in JRO[i] if e == 0]
    boxes = [(h, v, e) for h, v, e in JRO[i] if e > 0]
    if dots:
        p.scatter([d[0] for d in dots], [d[1] for d in dots], marker="circle",
                  size=7, fill_color=RED, line_color=RED)
    if boxes:
        p.rect([b[0] for b in boxes], [b[1] for b in boxes], width=6,
               height=[2 * b[2] for b in boxes], width_units="screen",
               fill_color=None, line_color=RED, line_width=1.5)
        p.scatter([b[0] for b in boxes], [b[1] for b in boxes], marker="square",
                  size=4, fill_color=RED, line_color=RED)

    # arrows at JRO times
    src = ColumnDataSource(dict(x=jh, y0=[ARROW_BASE] * len(jh), y1=[ARROW_TIP] * len(jh)))
    p.add_layout(Arrow(end=NormalHead(size=11, fill_color=BLUE, line_color=BLUE, line_width=1),
                       x_start="x", y_start="y0", x_end="x", y_end="y1", source=src,
                       line_color=BLUE, line_width=2.5))

    p.add_layout(Label(x=11.545, y=112, text=DAYS[i], text_font=MONO,
                       text_font_style="bold", text_font_size="13px",
                       text_baseline="middle", text_color="black"))
    return p


panels = [make_panel(i) for i in range(4)]
layout = column(*panels, spacing=0)
open("out.html", "w").write(file_html(layout, INLINE))
